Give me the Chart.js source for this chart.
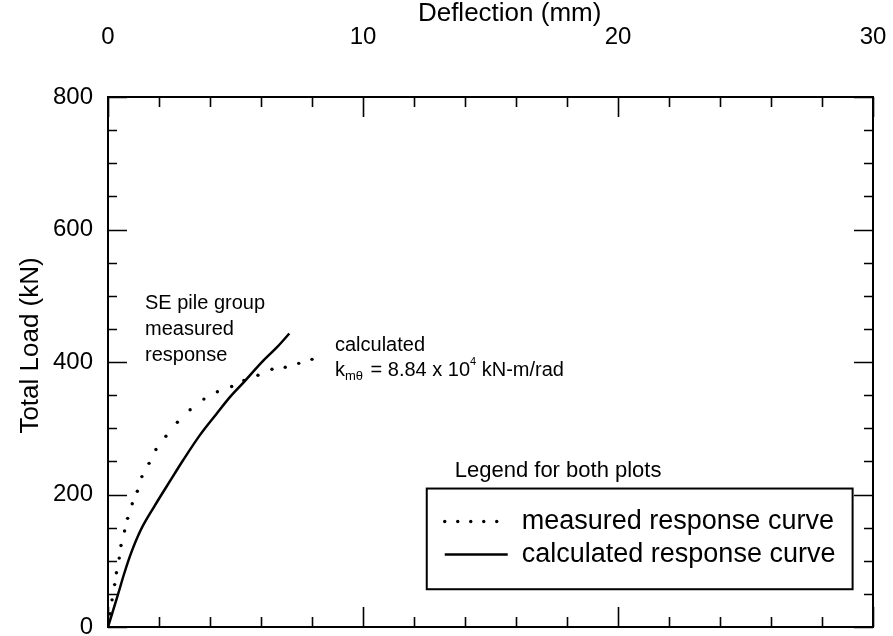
<!DOCTYPE html>
<html>
<head>
<meta charset="utf-8">
<script src="https://cdn.jsdelivr.net/npm/chart.js@4.4.1/dist/chart.umd.min.js"></script>
<style>
  html, body { margin: 0; padding: 0; background: #fff; }
  #wrap { width: 893px; height: 636px; }
</style>
</head>
<body>
<div id="wrap"><canvas id="loadChart" width="893" height="636"></canvas></div>
<script>
  // deflection (mm) / total load (kN)
  const measuredX = [0.08, 0.16, 0.26, 0.33, 0.44, 0.51, 0.65, 0.77, 0.95, 1.15, 1.33, 1.61, 1.88, 2.27, 2.72, 3.22, 3.76, 4.29, 4.85, 5.33, 5.88, 6.43, 6.95, 7.48, 8.0];
  const measuredY = [20, 41, 64, 82, 104, 123, 145, 164, 186, 205, 227, 247, 268, 288, 309, 328, 344, 355, 363, 372, 380, 389, 392, 398, 404];
  const calcX = [0, 0.36, 0.63, 0.89, 1.28, 1.80, 2.46, 2.95, 3.61, 4.26, 4.78, 5.31, 6.09, 6.62, 7.11];
  const calcY = [0, 45, 80, 110, 146, 181, 222, 252, 290, 322, 347, 369, 402, 422, 443];
  const xTicks = [0, 10, 20, 30];
  const yTicks = [0, 200, 400, 600, 800];
  const legendLabels = ['measured response curve', 'calculated response curve'];
  const xTitle = 'Deflection (mm)';
  const yTitle = 'Total Load (kN)';

  const FONT = '"Liberation Sans", Arial, Helvetica, sans-serif';

  function toPoints(xs, ys) {
    return xs.map((x, i) => ({ x: x, y: ys[i] }));
  }

  // frame, inward ticks, axis titles, legend box and notes
  const framePlugin = {
    id: 'frame',
    afterDraw(chart) {
      const ctx = chart.ctx;
      const a = chart.chartArea;
      const xs = chart.scales.x, ys = chart.scales.y;
      ctx.save();
      ctx.strokeStyle = '#000';
      ctx.lineWidth = 2;
      ctx.strokeRect(a.left, a.top, a.right - a.left, a.bottom - a.top);

      ctx.lineWidth = 1.6;
      ctx.beginPath();
      for (let v = 0; v <= 800; v += 50) {
        const py = Math.round(ys.getPixelForValue(v)) + 0.5;
        const len = v % 200 === 0 ? 19 : 9;
        ctx.moveTo(a.left, py); ctx.lineTo(a.left + len, py);
        ctx.moveTo(a.right, py); ctx.lineTo(a.right - len, py);
      }
      for (let v = 0; v <= 30; v += 2) {
        const px = Math.round(xs.getPixelForValue(v)) + 0.5;
        const len = v % 10 === 0 ? 20 : 10;
        ctx.moveTo(px, a.top); ctx.lineTo(px, a.top + len);
        ctx.moveTo(px, a.bottom); ctx.lineTo(px, a.bottom - len);
      }
      ctx.stroke();

      // axis titles
      ctx.fillStyle = '#000';
      ctx.font = '26px ' + FONT;
      ctx.textAlign = 'center';
      ctx.textBaseline = 'alphabetic';
      ctx.fillText(xTitle, xs.getPixelForValue(15.75), 21);
      ctx.save();
      ctx.translate(38, ys.getPixelForValue(425));
      ctx.rotate(-Math.PI / 2);
      ctx.fillText(yTitle, 0, 0);
      ctx.restore();

      // notes
      ctx.textBaseline = 'middle';
      ctx.textAlign = 'left';
      ctx.font = '20px ' + FONT;
      const sx = xs.getPixelForValue(1.45), sy = ys.getPixelForValue(489);
      ctx.fillText('SE pile group', sx, sy);
      ctx.fillText('measured', sx, sy + 26);
      ctx.fillText('response', sx, sy + 52);

      const cx = xs.getPixelForValue(8.9), cy = ys.getPixelForValue(425);
      ctx.fillText('calculated', cx, cy);
      let kx = cx;
      const ky = cy + 25;
      ctx.fillText('k', kx, ky); kx += ctx.measureText('k').width;
      ctx.font = '13px ' + FONT;
      ctx.fillText('m\u03b8', kx, ky + 6); kx += ctx.measureText('m\u03b8').width + 2;
      ctx.font = '20px ' + FONT;
      const mid = ' = 8.84 x 10';
      ctx.fillText(mid, kx, ky); kx += ctx.measureText(mid).width;
      ctx.font = '11px ' + FONT;
      ctx.fillText('4', kx, ky - 8); kx += ctx.measureText('4').width;
      ctx.font = '20px ' + FONT;
      ctx.fillText(' kN-m/rad', kx, ky);

      // legend
      const lx0 = xs.getPixelForValue(12.5), lx1 = xs.getPixelForValue(29.2);
      const ly0 = ys.getPixelForValue(209), ly1 = ys.getPixelForValue(57);
      ctx.fillStyle = '#fff';
      ctx.fillRect(lx0, ly0, lx1 - lx0, ly1 - ly0);
      ctx.lineWidth = 2;
      ctx.strokeRect(lx0, ly0, lx1 - lx0, ly1 - ly0);
      ctx.fillStyle = '#000';
      ctx.font = '22px ' + FONT;
      ctx.fillText('Legend for both plots', lx0 + 28, ly0 - 18);

      const r1 = ly0 + 33, r2 = ly0 + 66;
      for (let i = 0; i < 5; i++) {
        ctx.beginPath();
        ctx.arc(lx0 + 18 + i * 13, r1, 1.7, 0, Math.PI * 2);
        ctx.fill();
      }
      ctx.lineWidth = 2.5;
      ctx.beginPath();
      ctx.moveTo(lx0 + 18, r2); ctx.lineTo(lx0 + 81, r2);
      ctx.stroke();
      ctx.font = '27px ' + FONT;
      ctx.fillText(legendLabels[0], lx0 + 95, r1);
      ctx.fillText(legendLabels[1], lx0 + 95, r2);
      ctx.restore();
    }
  };

  const ctx = document.getElementById('loadChart').getContext('2d');
  new Chart(ctx, {
    type: 'scatter',
    data: {
      datasets: [{
        label: legendLabels[0],
        data: toPoints(measuredX, measuredY),
        showLine: false,
        pointRadius: 1.7,
        pointBackgroundColor: '#000',
        pointBorderWidth: 0
      }, {
        label: legendLabels[1],
        data: toPoints(calcX, calcY),
        showLine: true,
        borderColor: '#000',
        borderWidth: 2.5,
        pointRadius: 0,
        cubicInterpolationMode: 'monotone'
      }]
    },
    options: {
      responsive: false,
      animation: false,
      layout: { padding: { left: 0, top: 0, right: 20, bottom: 9 } },
      plugins: { legend: { display: false }, tooltip: { enabled: false } },
      scales: {
        x: {
          type: 'linear',
          position: 'top',
          min: 0,
          max: 30,
          afterBuildTicks: s => { s.ticks = xTicks.map(v => ({ value: v })); },
          afterFit: s => { s.height = 97; s.paddingLeft = 0; s.paddingRight = 0; },
          ticks: { color: '#000', font: { family: FONT, size: 24 }, padding: 45, maxRotation: 0 },
          grid: { display: false, drawTicks: false },
          border: { display: false },
          title: { display: false }
        },
        y: {
          type: 'linear',
          min: 0,
          max: 800,
          afterBuildTicks: s => { s.ticks = yTicks.map(v => ({ value: v })); },
          afterFit: s => { s.width = 108; s.paddingTop = 0; s.paddingBottom = 0; },
          ticks: { color: '#000', font: { family: FONT, size: 24 }, padding: 15 },
          grid: { display: false, drawTicks: false },
          border: { display: false },
          title: { display: false }
        }
      }
    },
    plugins: [framePlugin]
  });
</script>
</body>
</html>
